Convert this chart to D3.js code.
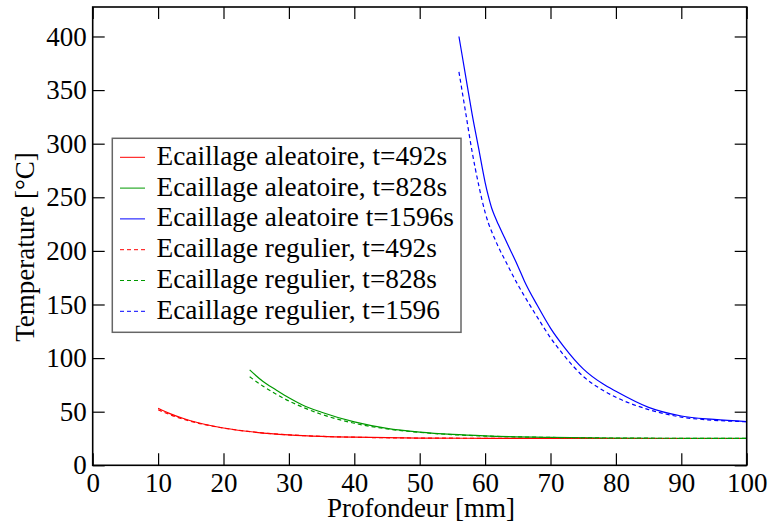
<!DOCTYPE html>
<html><head><meta charset="utf-8">
<script src="https://cdn.jsdelivr.net/npm/d3@7"></script>
<style>body{margin:0;background:#fff}svg{display:block}text{font-family:"Liberation Serif","Times New Roman",Times,serif;fill:#000}</style>
</head><body><svg id="c" width="770" height="525"></svg>
<script>
const xTicks=[0,10,20,30,40,50,60,70,80,90,100];
const yTicks=[0,50,100,150,200,250,300,350,400];
const xRed=[10,12,14,16,18,20,25,30,35,40,50,60,70,80,90,100];
const redSolid=[53.2,47.7,43.4,39.9,37.1,34.8,30.8,28.4,27,26.2,25.4,25.2,25.1,25,25,25];
const redDash=[51.8,46.8,42.8,39.5,36.9,34.7,30.8,28.4,27,26.2,25.4,25.2,25.1,25,25,25];
const xGreen=[24,26,28,30,32,35,40,45,50,55,60,70,80,90,100];
const greenSolid=[89,78.4,70.5,63,56.5,49.5,40.5,34.5,31,28.8,27.4,26,25.4,25.2,25.1];
const greenDash=[82.6,74,66.5,60,54.5,47.5,39.2,34,30.7,28.6,27.3,26,25.4,25.2,25.1];
const xBlue=[56,57,58,59,60,60.5,61,61.5,62,63,64,65,66,68,70,72,75,78,80,85,90,95,100];
const blueSolid=[400,364,328,296,264,251,240,232,225,212,199,186,172,149,128,111,90,76,69,54,46,42.8,40.7];
const blueDash=[367,330,293,262,236,226,218,211,204,192,180,168.5,158,138,119,103,83,70,63.5,52,45,42,40.7];
const labels=["Ecaillage aleatoire, t=492s","Ecaillage aleatoire, t=828s","Ecaillage aleatoire t=1596s","Ecaillage regulier, t=492s","Ecaillage regulier, t=828s","Ecaillage regulier, t=1596"];
const colors=["#ff0000","#009900","#0000ff","#ff0000","#009900","#0000ff"];

const series=[
 {x:xRed,y:redSolid,c:colors[0],dash:null},
 {x:xGreen,y:greenSolid,c:colors[1],dash:null},
 {x:xBlue,y:blueSolid,c:colors[2],dash:null},
 {x:xRed,y:redDash,c:colors[3],dash:"4,3"},
 {x:xGreen,y:greenDash,c:colors[4],dash:"4,3"},
 {x:xBlue,y:blueDash,c:colors[5],dash:"4,3"}
];
const L=92.7,R=746.7,T=7,B=465.3;
const x=d3.scaleLinear().domain([0,100]).range([L,R]);
const y=d3.scaleLinear().domain([0,427.5]).range([B,T]);
const svg=d3.select("#c");
const g=svg.append("g");
const line=d3.line().x(d=>x(d[0])).y(d=>y(d[1])).curve(d3.curveMonotoneX);
series.forEach(s=>{
  g.append("path").datum(s.x.map((v,i)=>[v,s.y[i]])).attr("d",line)
   .attr("fill","none").attr("stroke",s.c).attr("stroke-width",1.2)
   .attr("stroke-dasharray",s.dash);
});
// axes
const tl=12;
const bx=svg.append("g").attr("transform",`translate(0,${B})`).call(d3.axisBottom(x).tickValues(xTicks).tickSize(-tl).tickPadding(8));
const tx=svg.append("g").attr("transform",`translate(0,${T})`).call(d3.axisTop(x).tickValues(xTicks).tickSize(-tl).tickFormat(""));
const ly=svg.append("g").attr("transform",`translate(${L},0)`).call(d3.axisLeft(y).tickValues(yTicks).tickSize(-tl).tickPadding(6));
const ry=svg.append("g").attr("transform",`translate(${R},0)`).call(d3.axisRight(y).tickValues(yTicks).tickSize(-tl).tickFormat(""));
[bx,tx,ly,ry].forEach(a=>{a.select(".domain").remove();a.selectAll("line").attr("stroke","#000").attr("stroke-width",1.2);
 a.selectAll("text").attr("font-family","Liberation Serif, Times New Roman, serif").style("font-size","27px");});
bx.selectAll("text").attr("dy","0.71em");
svg.append("rect").attr("x",L).attr("y",T).attr("width",R-L).attr("height",B-T).attr("fill","none").attr("stroke","#000").attr("stroke-width",1.6);
// titles
svg.append("text").attr("x",421).attr("y",517).attr("text-anchor","middle").style("font-size","27px").text("Profondeur [mm]");
svg.append("text").attr("transform","translate(34,247) rotate(-90)").attr("text-anchor","middle").style("font-size","27px").text("Temperature [°C]");
// legend
const lg=svg.append("g");
lg.append("rect").attr("x",112.3).attr("y",138.3).attr("width",348.7).attr("height",194).attr("fill","#fff").attr("stroke","#666").attr("stroke-width",1.5);
labels.forEach((t,i)=>{
  const yy=157.3+i*30.8;
  lg.append("line").attr("x1",120).attr("x2",145).attr("y1",yy).attr("y2",yy).attr("stroke",colors[i]).attr("stroke-width",1).attr("stroke-dasharray",i>=3?"4,3":null);
  lg.append("text").attr("x",156.5).attr("y",yy+7.5).style("font-size","27.3px").text(t);
});
</script></body></html>
